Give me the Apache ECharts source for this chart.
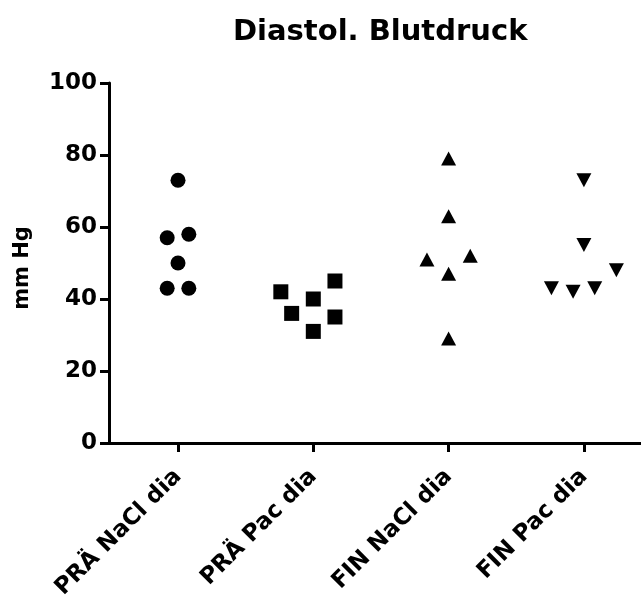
<!DOCTYPE html>
<html>
<head>
<meta charset="utf-8">
<script src="https://cdn.jsdelivr.net/npm/echarts@6/dist/echarts.min.js"></script>
<style>
  html, body { margin: 0; padding: 0; background: #fff; }
  #chart { width: 641px; height: 599px; }
</style>
</head>
<body>
<div id="chart"></div>
<script>
// Groups along the x axis
const categories = ['PRÄ NaCl dia', 'PRÄ Pac dia', 'FIN NaCl dia', 'FIN Pac dia'];

// Diastolic pressure per subject (mm Hg)
const praeNaCl = [73, 57, 58, 50, 43, 43];
const praePac  = [42, 40, 45, 36, 35, 31];
const finNaCl  = [79, 63, 51, 52, 47, 29];
const finPac   = [73, 55, 48, 43, 42, 43];

// Horizontal spread of points inside each column (category units)
const spreadPraeNaCl = [0, -0.08, 0.08, 0, -0.08, 0.08];
const spreadPraePac  = [-0.24, 0, 0.16, -0.16, 0.16, 0];
const spreadFinNaCl  = [0, 0, -0.16, 0.16, 0, 0];
const spreadFinPac   = [0, 0, 0.24, -0.24, -0.08, 0.08];

const yTicks = [0, 20, 40, 60, 80, 100];

const FONT = 'DejaVu Sans';

function column(values, spread, index) {
  return values.map((v, i) => [index + 1 + spread[i], v]);
}

const chart = echarts.init(document.getElementById('chart'), null, { renderer: 'canvas' });

const baseSeries = {
  type: 'scatter',
  itemStyle: { color: '#000', opacity: 1 },
  emphasis: { disabled: true },
  silent: true
};

chart.setOption({
  animation: false,
  backgroundColor: '#fff',
  title: {
    text: 'Diastol. Blutdruck',
    left: 228,
    top: 13,
    textStyle: { fontFamily: FONT, fontWeight: 'bold', fontSize: 29, color: '#000' }
  },
  grid: { left: 109, right: 0, top: 83, bottom: 156, containLabel: false, outerBoundsMode: 'none' },
  xAxis: {
    type: 'value',
    min: 0.49,
    max: 4.422,
    splitLine: { show: false },
    axisLine: { show: true, lineStyle: { color: '#000', width: 3 } },
    axisTick: { show: true, length: 9, lineStyle: { color: '#000', width: 3 }, customValues: [1, 2, 3, 4] },
    axisLabel: {
      customValues: [1, 2, 3, 4],
      formatter: v => categories[Math.round(v) - 1],
      rotate: 45,
      margin: 30,
      fontFamily: FONT,
      fontWeight: 'bold',
      fontSize: 23,
      color: '#000'
    }
  },
  yAxis: {
    type: 'value',
    min: yTicks[0],
    max: yTicks[yTicks.length - 1],
    interval: 20,
    name: 'mm Hg',
    nameLocation: 'middle',
    nameGap: 76,
    nameTextStyle: { fontFamily: FONT, fontWeight: 'bold', fontSize: 21, color: '#000', padding: [0, 10, 0, 0] },
    splitLine: { show: false },
    axisLine: { show: true, lineStyle: { color: '#000', width: 3 } },
    axisTick: { show: true, length: 9, lineStyle: { color: '#000', width: 3 } },
    axisLabel: {
      margin: 12,
      fontFamily: FONT,
      fontWeight: 'bold',
      fontSize: 23,
      color: '#000'
    }
  },
  series: [
    Object.assign({}, baseSeries, {
      name: categories[0],
      symbol: 'circle',
      symbolSize: 15,
      data: column(praeNaCl, spreadPraeNaCl, 0)
    }),
    Object.assign({}, baseSeries, {
      name: categories[1],
      symbol: 'rect',
      symbolSize: 15,
      data: column(praePac, spreadPraePac, 1)
    }),
    Object.assign({}, baseSeries, {
      name: categories[2],
      symbol: 'triangle',
      symbolSize: [15, 14],
      data: column(finNaCl, spreadFinNaCl, 2)
    }),
    Object.assign({}, baseSeries, {
      name: categories[3],
      symbol: 'triangle',
      symbolRotate: 180,
      symbolSize: [15, 14],
      data: column(finPac, spreadFinPac, 3)
    })
  ]
});
</script>
</body>
</html>
